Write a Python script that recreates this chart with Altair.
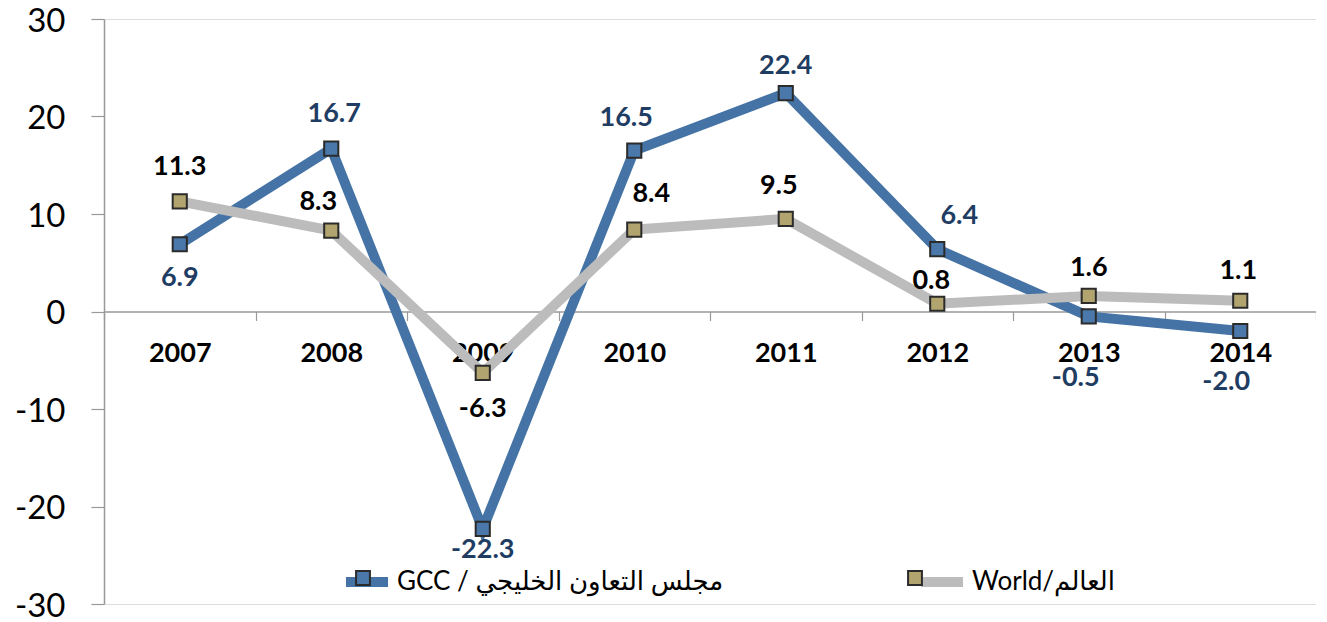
import altair as alt
import pandas as pd

years = ["2007", "2008", "2009", "2010", "2011", "2012", "2013", "2014"]
gcc = [6.9, 16.7, -22.3, 16.5, 22.4, 6.4, -0.5, -2.0]
world = [11.3, 8.3, -6.3, 8.4, 9.5, 0.8, 1.6, 1.1]
series_names = ["GCC / مجلس التعاون الخليجي", "World/العالم"]

# label placement offsets (pixels) relative to each point
gcc_dx = [0, 3, 0, -8, 0, 22, -13, -14]
gcc_dy = [34, -35, 21, -33, -27, -33, 62, 51]
world_dx = [0, -13, 0, 17, -7, -6, 0, -2]
world_dy = [-34, -29, 36, -36, -33, -23, -28, -30]

W = 1212
H = 585
Y_MIN, Y_MAX = -30, 30

rows = []
for i, y in enumerate(years):
    rows.append(dict(year=y, value=gcc[i], series=series_names[0], order=0,
                     dx=gcc_dx[i], dy=gcc_dy[i], label=f"{gcc[i]:.1f}"))
for i, y in enumerate(years):
    rows.append(dict(year=y, value=world[i], series=series_names[1], order=1,
                     dx=world_dx[i], dy=world_dy[i], label=f"{world[i]:.1f}"))
df = pd.DataFrame(rows)
ZW = "\u200b"
df["series_m"] = df["series"] + ZW

LAT = "Lato, 'DejaVu Sans', sans-serif"
BLUE = "#4573A5"
BLUE_M = "#4A78AA"
GRAY = "#BBBCBB"
KHAKI = "#B2A46E"
DARK_BLUE = "#1F3D63"

x_enc = alt.X(
    "year:N",
    scale=alt.Scale(type="band", paddingInner=0, paddingOuter=0, domain=years),
    bandPosition=0.5,
    axis=alt.Axis(
        title=None, orient="bottom", offset=-(H / 2), tickBand="extent",
        labelAngle=0, labelFont=LAT, labelFontSize=27, labelFontWeight="bold",
        labelColor="black", labelPadding=20, tickSize=9, tickColor="#999999",
        domainColor="#999999", domainWidth=1.5, tickWidth=1.2, grid=False,
    ),
)
y_scale = alt.Scale(domain=[Y_MIN, Y_MAX], nice=False, zero=False)
y_enc = alt.Y(
    "value:Q",
    scale=y_scale,
    axis=alt.Axis(
        title=None, values=[-30, -20, -10, 0, 10, 20, 30], format="d",
        labelExpr="replace(datum.label, '\u2212', '-')",
        labelFont=LAT, labelFontSize=33, labelColor="black", labelPadding=26,
        labelOffset=2,
        tickSize=13, tickColor="#999999", domainColor="#999999", domainWidth=1.5,
        tickWidth=1.2, grid=False,
    ),
)

base = alt.Chart(df)

legend_x = 237
legend_y = 537
LEG_FS = 26
LEG_PAD = 177

lines = base.mark_line(strokeWidth=10, strokeJoin="miter", strokeCap="butt").encode(
    x=x_enc,
    y=y_enc,
    color=alt.Color(
        "series:N",
        scale=alt.Scale(domain=series_names, range=[BLUE, GRAY]),
        legend=alt.Legend(
            title=None, orient="none", legendX=legend_x, legendY=legend_y,
            direction="horizontal", symbolType="stroke", symbolSize=1764,
            symbolStrokeWidth=10, labelFont=LAT, labelFontSize=LEG_FS,
            labelColor="black", labelOffset=4, columnPadding=LEG_PAD,
            labelLimit=600,
        ),
    ),
    order=alt.Order("order:Q"),
)

points = base.mark_point(shape="square", size=200, filled=True, stroke="#2b2b2b",
                         strokeWidth=2, opacity=1).encode(
    x=x_enc,
    y=y_enc,
    fill=alt.Fill(
        "series_m:N",
        scale=alt.Scale(domain=[s + ZW for s in series_names], range=[BLUE_M, KHAKI]),
        legend=alt.Legend(
            title=None, orient="none", legendX=legend_x, legendY=legend_y,
            direction="horizontal",
            symbolType="M-0.33,-0.33H0.33V0.33H-0.33Z", symbolSize=1764,
            symbolStrokeColor="#2b2b2b", symbolStrokeWidth=2,
            labelFont=LAT, labelFontSize=LEG_FS, labelOpacity=0,
            labelOffset=4, columnPadding=LEG_PAD, labelLimit=600,
        ),
    ),
)

half_band = W / len(years) / 2
px_per_unit = H / (Y_MAX - Y_MIN)


def labels(order, color):
    return base.transform_filter(alt.datum.order == order).transform_calculate(
        ly=f"datum.value - datum.dy / {px_per_unit}",
        lx=f"datum.dx + {half_band}",
    ).mark_text(
        font=LAT, fontSize=27, fontWeight="bold", baseline="middle",
        align="center", color=color,
    ).encode(
        x=x_enc,
        y=alt.Y("ly:Q", scale=y_scale),
        xOffset=alt.XOffset("lx:Q", scale=None),
        text="label:N",
    )


text_gcc = labels(0, DARK_BLUE)
text_world = labels(1, "black")

chart = alt.layer(lines, points, text_gcc, text_world).properties(
    width=W, height=H,
    autosize=alt.AutoSizeParams(type="none"),
    padding={"left": 96, "top": 11, "right": 0, "bottom": 16},
).configure_view(stroke=None).configure(background="white")

chart.save("out.html", embed_options={"renderer": "svg", "actions": False})
